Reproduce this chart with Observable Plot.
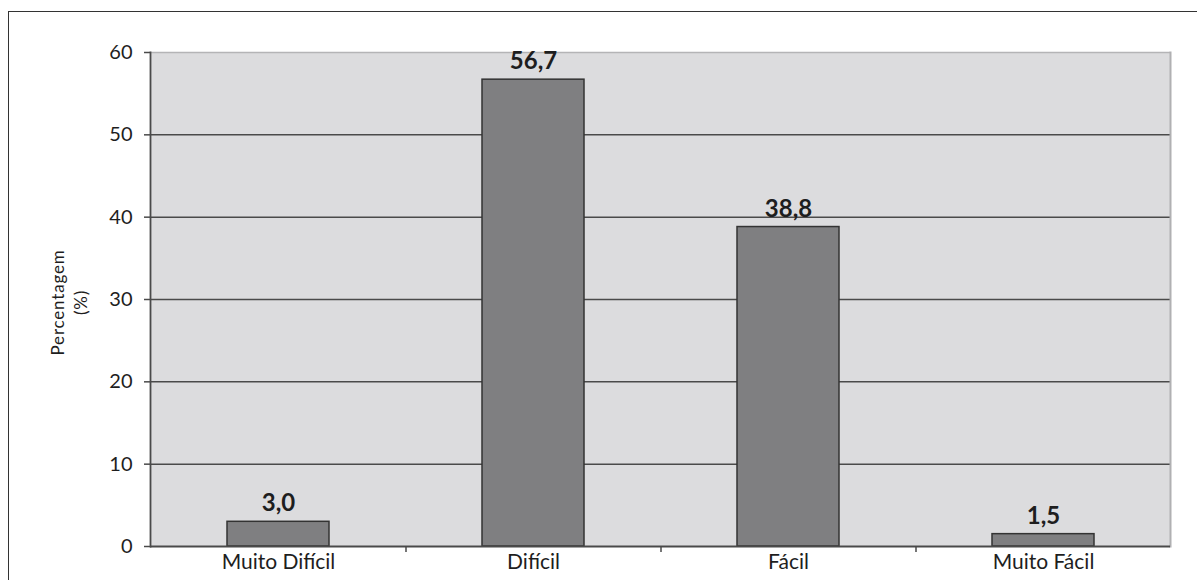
<!DOCTYPE html>
<html>
<head>
<meta charset="utf-8">
<script src="https://cdn.jsdelivr.net/npm/d3@7"></script>
<script src="https://cdn.jsdelivr.net/npm/@observablehq/plot@0.6"></script>
<style>
  html, body { margin: 0; padding: 0; background: #fff; }
  #wrap { position: relative; width: 1197px; height: 580px; overflow: hidden; }
  #border { position: absolute; left: 8px; top: 11px; width: 1300px; height: 700px;
            border-top: 1.5px solid #333; border-left: 1.5px solid #333; pointer-events: none; }
  svg { font-family: Lato, "Open Sans", sans-serif; }
</style>
</head>
<body>
<div id="wrap"><div id="border"></div></div>
<script>
const categories = ["Muito Difícil", "Difícil", "Fácil", "Muito Fácil"];
const values = [3.0, 56.7, 38.8, 1.5];
const yTicks = [0, 10, 20, 30, 40, 50, 60];
const yLabel = "Percentagem\n(%)";

const data = categories.map((c, i) => ({category: c, value: values[i]}));
const fmt = v => v.toFixed(1).replace(".", ",");

const W = 1197, H = 580, ML = 150, MR = 27, MT = 52, MB = 34;
const step = (W - ML - MR) / categories.length;

const chart = Plot.plot({
  width: W,
  height: H,
  marginLeft: ML,
  marginRight: MR,
  marginTop: MT,
  marginBottom: MB,
  style: {fontFamily: "Lato, 'Open Sans', sans-serif", color: "#1e1e1e", background: "transparent"},
  x: {type: "band", domain: categories, paddingInner: 0.6, paddingOuter: 0.3, label: null},
  y: {domain: [0, 60], label: null},
  marks: [
    Plot.frame({fill: "#dcdcde", stroke: null}),
    Plot.gridY(yTicks.filter(t => t > 0 && t < 60), {stroke: "#4a4a4a", strokeOpacity: 1, strokeWidth: 1.5}),
    Plot.ruleY([60], {stroke: "#b4b4b6", strokeWidth: 1.5}),
    Plot.barY(data, {x: "category", y: "value", fill: "#7f7f81", stroke: "#333", strokeWidth: 1.5}),
    Plot.frame({anchor: "right", stroke: "#b0b0b2", strokeWidth: 2}),
    Plot.ruleY([0], {stroke: "#4a4a4a", strokeWidth: 1.8}),
    Plot.ruleX(categories.slice(1), {x: d => d, dx: -step / 2, y1: 0, y2: 0, insetBottom: -6, stroke: "#4a4a4a", strokeWidth: 1.5}),
    Plot.axisY({ticks: yTicks, tickSize: 6, tickPadding: 12, fontSize: 20, stroke: "#4a4a4a", strokeWidth: 1.5}),
    Plot.frame({anchor: "left", stroke: "#4a4a4a", strokeWidth: 1.8}),
    Plot.axisX({tickSize: 0, tickPadding: 8, fontSize: 21}),
    Plot.text(data, {x: "category", y: "value", text: d => fmt(d.value), dy: -18, fontSize: 24, fontWeight: "bold", fill: "#1e1e1e"}),
    Plot.text([yLabel], {frameAnchor: "left", textAnchor: "middle", text: d => d, rotate: -90, dx: -82, dy: 3, fontSize: 17, lineHeight: 1.35, fill: "#1e1e1e"})
  ]
});
const textGroups = chart.querySelectorAll('g[aria-label="text"]');
d3.select(textGroups[textGroups.length - 1]).selectAll("text").style("letter-spacing", "0.8px");
document.getElementById("wrap").prepend(chart);
</script>
</body>
</html>
